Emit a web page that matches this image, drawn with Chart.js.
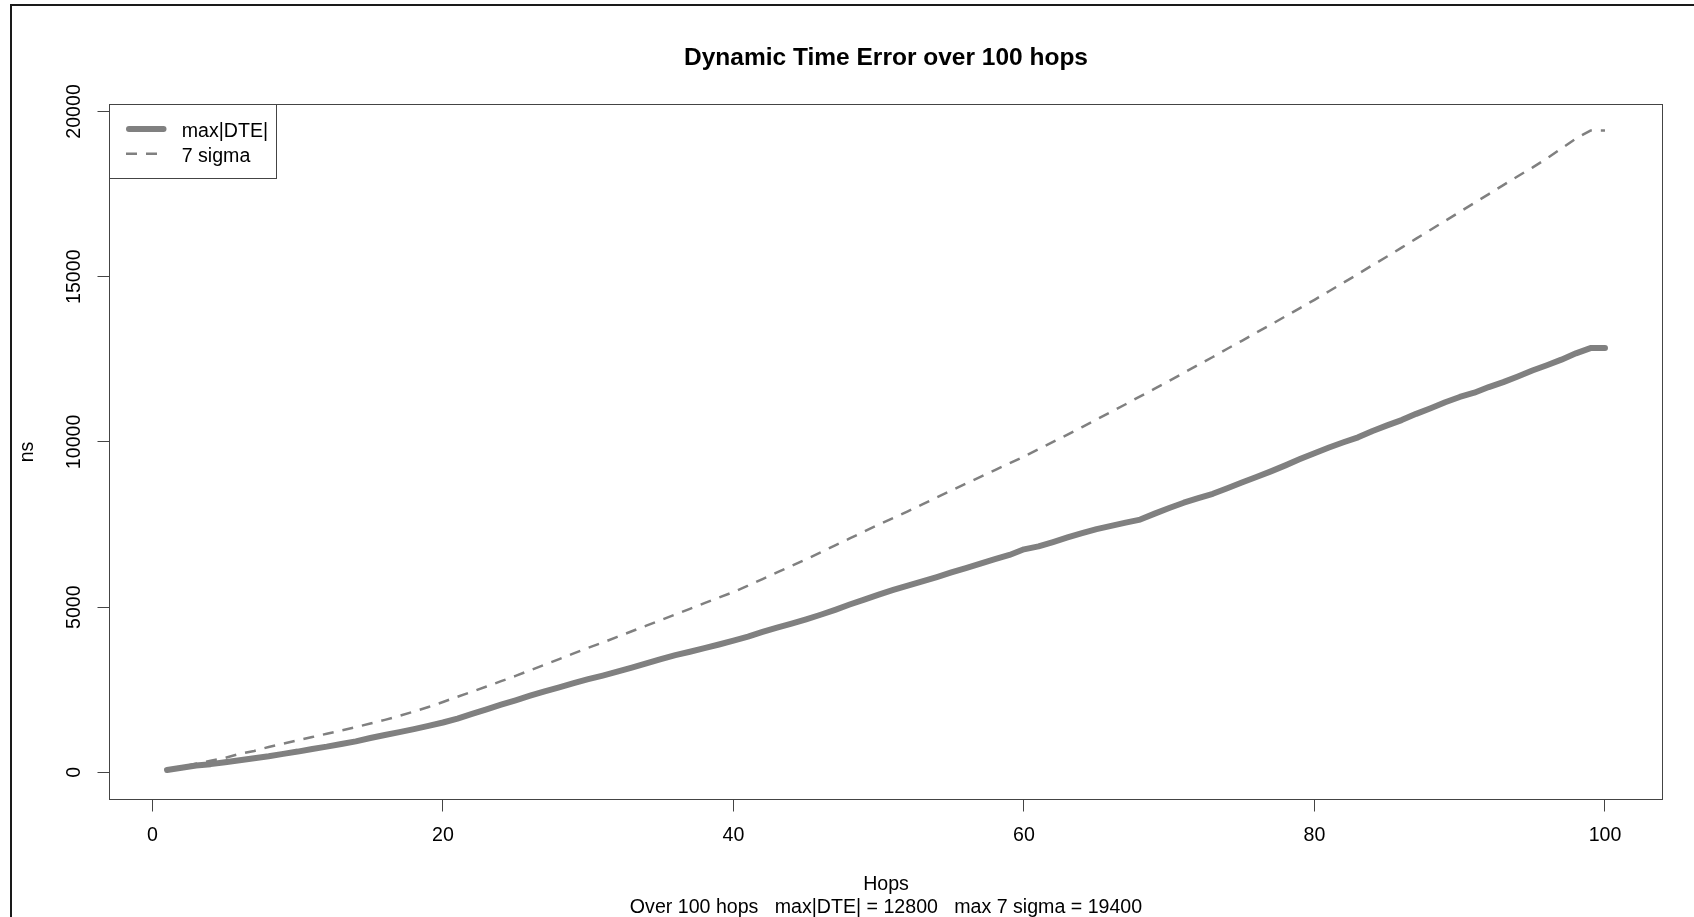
<!DOCTYPE html>
<html>
<head>
<meta charset="utf-8">
<script src="https://cdn.jsdelivr.net/npm/chart.js@4.4.1/dist/chart.umd.min.js"></script>
<style>
html,body{margin:0;padding:0;background:#fff;overflow:hidden}
canvas{display:block}
</style>
</head>
<body>
<canvas id="c" width="1694" height="917"></canvas>
<script>
// ---------- data ----------
const hops = [1,2,3,4,5,6,7,8,9,10,11,12,13,14,15,16,17,18,19,20,
  21,22,23,24,25,26,27,28,29,30,31,32,33,34,35,36,37,38,39,40,
  41,42,43,44,45,46,47,48,49,50,51,52,53,54,55,56,57,58,59,60,
  61,62,63,64,65,66,67,68,69,70,71,72,73,74,75,76,77,78,79,80,
  81,82,83,84,85,86,87,88,89,90,91,92,93,94,95,96,97,98,99,100];

const maxDTE = [70,140,210,250,310,370,430,490,560,630,
  710,780,860,940,1040,1130,1220,1310,1410,1510,
  1630,1770,1910,2050,2180,2320,2450,2570,2700,2820,
  2930,3050,3170,3300,3430,3550,3650,3760,3870,3990,
  4110,4250,4380,4500,4630,4770,4920,5080,5230,5380,
  5520,5650,5780,5910,6050,6180,6320,6450,6580,6750,
  6840,6970,7110,7240,7360,7460,7560,7650,7830,8000,
  8160,8300,8430,8600,8770,8940,9110,9290,9480,9660,
  9830,9990,10140,10330,10500,10660,10850,11020,11200,11360,
  11490,11660,11810,11980,12160,12320,12490,12680,12840,12840];

const sigma7 = [60,170,260,350,440,560,650,770,870,970,
  1070,1170,1270,1370,1480,1590,1710,1840,1980,2130,
  2290,2440,2600,2760,2920,3090,3260,3430,3600,3770,
  3930,4100,4270,4440,4610,4780,4950,5120,5290,5460,
  5650,5850,6050,6250,6450,6660,6870,7080,7290,7500,
  7700,7900,8110,8320,8530,8740,8940,9150,9350,9560,
  9780,10000,10220,10450,10680,10910,11140,11380,11610,11850,
  12090,12330,12570,12820,13060,13310,13550,13800,14050,14300,
  14560,14820,15080,15350,15610,15880,16150,16420,16690,16960,
  17230,17500,17770,18040,18300,18580,18880,19180,19420,19420];

const xTicks = [0, 20, 40, 60, 80, 100];
const yTicks = [0, 5000, 10000, 15000, 20000];
const seriesNames = ['max|DTE|', '7 sigma'];
const chartTitle = 'Dynamic Time Error over 100 hops';
const xTitle = 'Hops';
const subTitle = 'Over 100 hops   max|DTE| = 12800   max 7 sigma = 19400';
const yTitle = 'ns';

// ---------- style ----------
const FONT = '"Liberation Sans", Arial, Helvetica, sans-serif';
const FS = 19.6;
const LINE_COL = '#808080';
const AXIS_COL = '#444444';

Chart.defaults.font.family = FONT;
Chart.defaults.color = '#000';

const bgPlugin = {
  id: 'bg',
  beforeDraw(chart) {
    const ctx = chart.ctx;
    ctx.save();
    ctx.fillStyle = '#fff';
    ctx.fillRect(0, 0, chart.width, chart.height);
    ctx.restore();
  },
  afterDraw(chart) {
    const ctx = chart.ctx;
    ctx.save();
    ctx.fillStyle = '#1a1a1a';
    ctx.fillRect(10, 4, 2, chart.height - 4);
    ctx.fillRect(10, 4, chart.width - 10, 2);
    ctx.restore();
  }
};

const boxPlugin = {
  id: 'rbox',
  afterDraw(chart) {
    const {ctx, chartArea: ca} = chart;
    ctx.save();
    ctx.strokeStyle = AXIS_COL;
    ctx.lineWidth = 1;
    ctx.strokeRect(ca.left, ca.top, ca.right - ca.left, ca.bottom - ca.top);
    ctx.restore();
  }
};

const legendPlugin = {
  id: 'rlegend',
  afterDraw(chart) {
    const {ctx, chartArea: ca} = chart;
    ctx.save();
    ctx.strokeStyle = AXIS_COL;
    ctx.lineWidth = 1;
    ctx.setLineDash([]);
    ctx.strokeRect(ca.left, ca.top, 167, 74);
    chart.data.datasets.forEach((ds, i) => {
      const ly = ca.top + 24.5 + i * 24.8;
      ctx.beginPath();
      ctx.setLineDash(ds.borderDash || []);
      ctx.lineCap = ds.borderCapStyle || 'butt';
      ctx.lineWidth = ds.borderWidth;
      ctx.strokeStyle = ds.borderColor;
      const cap = ds.borderCapStyle === 'round' ? ds.borderWidth / 2 : 0;
      const x1 = ca.left + 16.5 + cap;
      const x2 = ds.borderDash ? ca.left + 50 : ca.left + 57 - cap;
      ctx.moveTo(x1, ly);
      ctx.lineTo(x2, ly);
      ctx.stroke();
      ctx.setLineDash([]);
      ctx.fillStyle = '#000';
      ctx.font = FS + 'px ' + FONT;
      ctx.textBaseline = 'middle';
      ctx.textAlign = 'left';
      ctx.fillText(ds.label, ca.left + 72.2, ly + 2.5);
    });
    ctx.restore();
  }
};

const ctx = document.getElementById('c').getContext('2d');
new Chart(ctx, {
  type: 'line',
  data: {
    datasets: [
      {
        label: seriesNames[0],
        data: hops.map((h, i) => ({x: h, y: maxDTE[i]})),
        borderColor: LINE_COL,
        borderWidth: 6,
        borderCapStyle: 'round',
        borderJoinStyle: 'round',
        pointRadius: 0,
        tension: 0,
        fill: false
      },
      {
        label: seriesNames[1],
        data: hops.map((h, i) => ({x: h, y: sigma7[i]})),
        borderColor: LINE_COL,
        borderWidth: 2.5,
        borderDash: [11, 9],
        borderCapStyle: 'butt',
        borderJoinStyle: 'round',
        pointRadius: 0,
        tension: 0,
        fill: false
      }
    ]
  },
  options: {
    responsive: false,
    animation: false,
    devicePixelRatio: 1,
    layout: {padding: {left: 0, right: 31.5, top: 0, bottom: 0}},
    plugins: {
      legend: {display: false},
      tooltip: {enabled: false},
      title: {
        display: true,
        text: chartTitle,
        fullSize: false,
        color: '#000',
        font: {size: 24.5, weight: 'bold', lineHeight: 1.2},
        padding: {top: 43.6, bottom: 31.5}
      }
    },
    scales: {
      x: {
        type: 'linear',
        min: -2.96,
        max: 103.96,
        afterBuildTicks: s => { s.ticks = xTicks.map(v => ({value: v})); },
        afterFit: s => { s.height = 117.5; },
        ticks: {
          autoSkip: false, minRotation: 0, maxRotation: 0,
          padding: 12, color: '#000', font: {size: FS},
          callback: v => String(v)
        },
        grid: {display: true, drawOnChartArea: false, drawTicks: true, tickLength: 12, color: AXIS_COL, lineWidth: 1},
        border: {display: false},
        title: {
          display: true,
          text: [xTitle, subTitle],
          color: '#000',
          font: {size: FS, lineHeight: 1.163},
          padding: {top: 0, bottom: -2}
        }
      },
      y: {
        type: 'linear',
        min: -820,
        max: 20210,
        afterBuildTicks: s => { s.ticks = yTicks.map(v => ({value: v})); },
        afterFit: s => { s.width = 109.5; },
        ticks: {
          autoSkip: false, minRotation: 90, maxRotation: 90,
          crossAlign: 'center', padding: -4, color: '#000', font: {size: FS},
          callback: v => String(v)
        },
        grid: {display: true, drawOnChartArea: false, drawTicks: true, tickLength: 12, color: AXIS_COL, lineWidth: 1},
        border: {display: false},
        title: {
          display: true,
          text: yTitle,
          color: '#000',
          font: {size: FS, lineHeight: 1.2},
          padding: {top: 16.2, bottom: 0}
        }
      }
    }
  },
  plugins: [bgPlugin, boxPlugin, legendPlugin]
});
</script>
</body>
</html>
